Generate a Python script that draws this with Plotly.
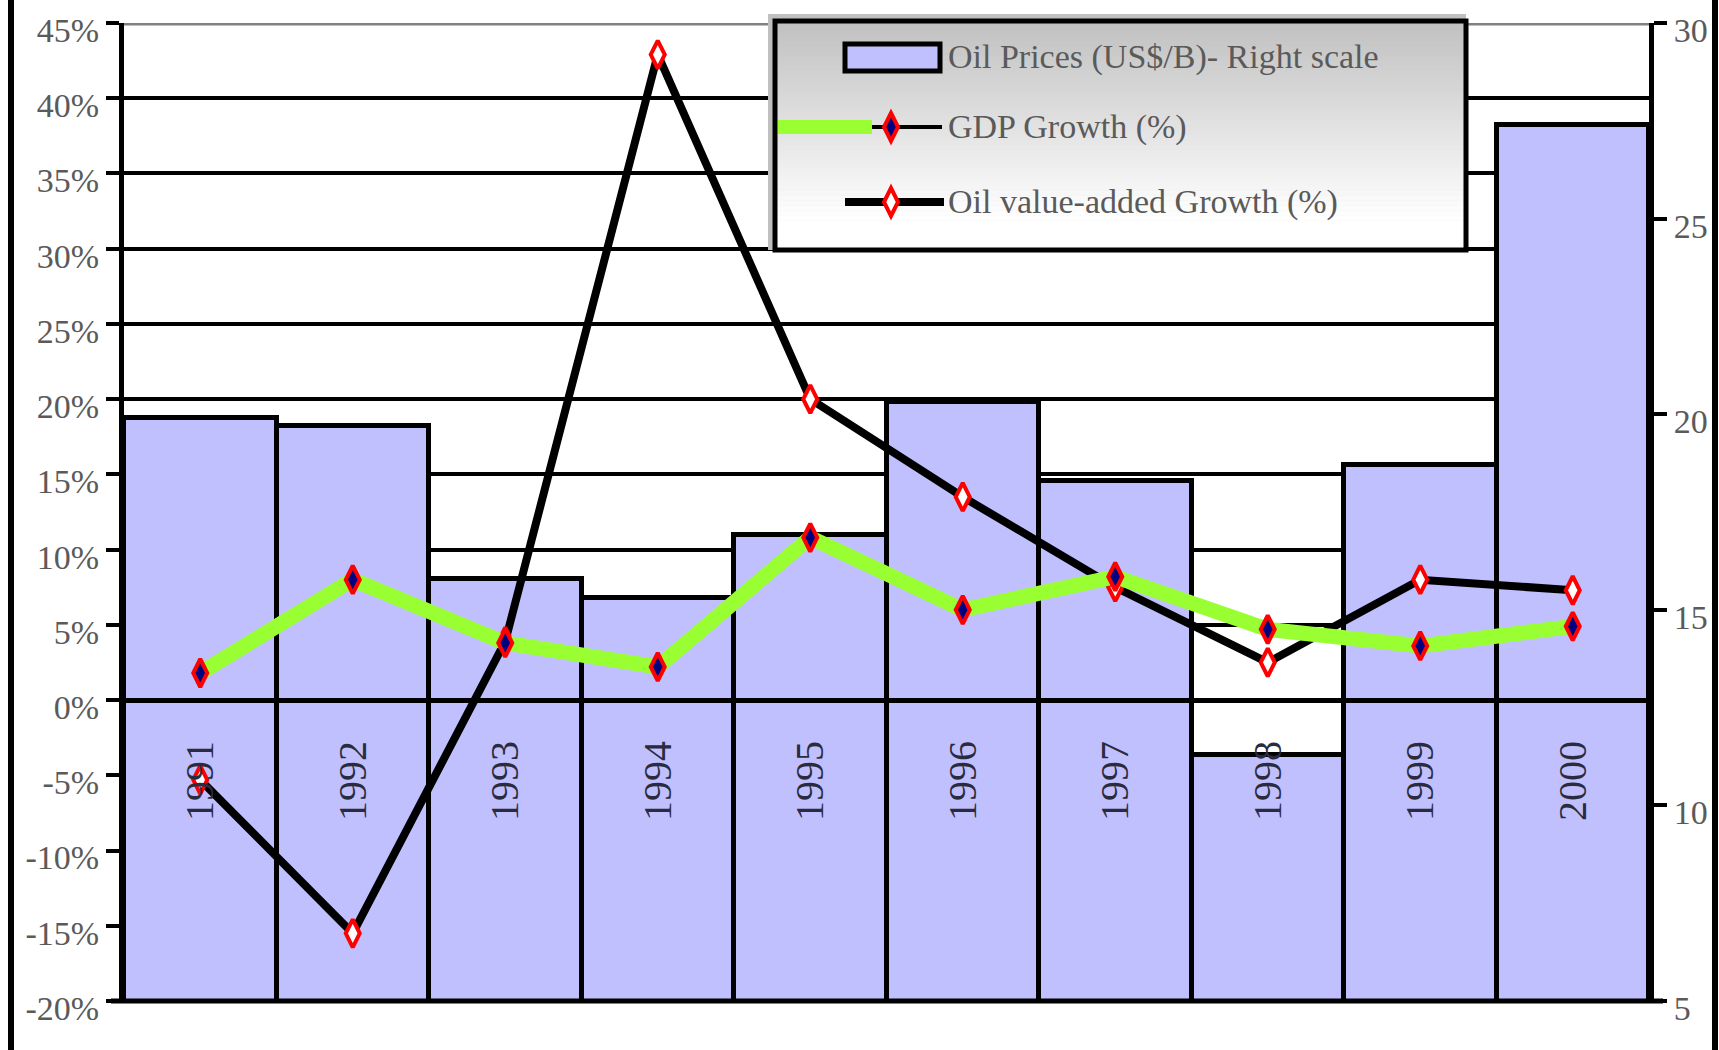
import plotly.graph_objects as go

# ---------------- data ----------------
years = ["1991", "1992", "1993", "1994", "1995", "1996", "1997", "1998", "1999", "2000"]
oil_price = [19.9, 19.7, 15.8, 15.3, 16.9, 20.3, 18.3, 11.3, 18.7, 27.4]      # US$/B, right scale
gdp_growth = [1.8, 8.0, 3.8, 2.2, 10.8, 6.0, 8.2, 4.7, 3.6, 4.9]             # %
oil_va_growth = [-5.3, -15.5, 3.9, 42.9, 20.0, 13.5, 7.5, 2.5, 8.0, 7.3]     # %
pct_ticks = [-20, -15, -10, -5, 0, 5, 10, 15, 20, 25, 30, 35, 40, 45]
pct_labels = [f"{v}%" for v in pct_ticks]
price_ticks = [5, 10, 15, 20, 25, 30]
legend_labels = ["Oil Prices (US$/B)- Right scale", "GDP Growth (%)", "Oil value-added Growth (%)"]

# ---------------- geometry ----------------
W, H = 1719, 1050
L, R, T, B = 124, 70, 23, 49
PW, PH = W - L - R, H - T - B


def px(x):
    return (x - L) / PW


def py(y):
    return (H - B - y) / PH


BAR_COLOR = "#C0C0FF"
GREEN = "#99FF33"
NAVY = "#000080"
RED = "#FF0000"
FONT = "Liberation Serif"
TXT = "#5a5a5a"

fig = go.Figure()

fig.add_trace(go.Bar(
    x=years, y=oil_price, name=legend_labels[0],
    marker=dict(color=BAR_COLOR, line=dict(color="black", width=5)),
    xaxis="x", yaxis="y", showlegend=False,
))

fig.add_trace(go.Scatter(
    x=years, y=oil_va_growth, name=legend_labels[2], mode="lines+markers",
    line=dict(color="black", width=8),
    marker=dict(symbol="diamond-tall", size=20, color="white", line=dict(color=RED, width=4)),
    xaxis="x", yaxis="y2", showlegend=False,
))

fig.add_trace(go.Scatter(
    x=years, y=gdp_growth, mode="lines",
    line=dict(color=GREEN, width=15),
    xaxis="x", yaxis="y2", showlegend=False, hoverinfo="skip",
))

fig.add_trace(go.Scatter(
    x=years, y=gdp_growth, name=legend_labels[1], mode="markers",
    marker=dict(symbol="diamond-tall", size=20, color=NAVY, line=dict(color=RED, width=4)),
    xaxis="x", yaxis="y2", showlegend=False,
))

shapes = []
# outer frame (left / right vertical rules)
for xx in (11, 1715):
    shapes.append(dict(type="line", xref="paper", yref="paper", x0=px(xx), x1=px(xx),
                       y0=py(H + 10), y1=py(-10), line=dict(color="black", width=6), layer="above"))
# bottom line
shapes.append(dict(type="line", xref="paper", yref="paper", x0=px(111), x1=px(1663),
                   y0=0, y1=0, line=dict(color="black", width=5), layer="above"))
# grey top gridline
shapes.append(dict(type="line", xref="paper", yref="y2", x0=0, x1=1, y0=45, y1=45,
                   line=dict(color="#808080", width=5), layer="above"))

# ---- legend box ----
LX0, LX1, LY0, LY1 = 775, 1466, 21, 250
shapes.append(dict(type="rect", xref="paper", yref="paper", x0=px(LX0 - 5), x1=px(LX1 - 2),
                   y0=py(LY0 - 5), y1=py(LY1 - 2), line=dict(color="#c0c0c0", width=4),
                   fillcolor="#c0c0c0", layer="above"))
NB = 46
for i in range(NB):
    y0 = LY0 + (LY1 - LY0) * i / NB
    y1 = LY0 + (LY1 - LY0) * (i + 1) / NB
    t = min(1.0, (i + 0.5) / (NB * 0.86))
    g = int(round(192 + (255 - 192) * t))
    col = f"rgb({g},{g},{g})"
    shapes.append(dict(type="rect", xref="paper", yref="paper", x0=px(LX0), x1=px(LX1),
                       y0=py(y0), y1=py(y1 + 0.6), line=dict(width=0), fillcolor=col, layer="above"))
shapes.append(dict(type="rect", xref="paper", yref="paper", x0=px(LX0), x1=px(LX1),
                   y0=py(LY0), y1=py(LY1), line=dict(color="black", width=5), layer="above"))

ROWS = [57, 127, 202]
# row 1 : bar swatch
shapes.append(dict(type="rect", xref="paper", yref="paper", x0=px(845), x1=px(940),
                   y0=py(44), y1=py(71), fillcolor=BAR_COLOR, line=dict(color="black", width=5),
                   layer="above"))
# row 2 : green + black line + navy diamond
shapes.append(dict(type="line", xref="paper", yref="paper", x0=px(778), x1=px(872),
                   y0=py(ROWS[1]), y1=py(ROWS[1]), line=dict(color=GREEN, width=14), layer="above"))
shapes.append(dict(type="line", xref="paper", yref="paper", x0=px(872), x1=px(942),
                   y0=py(ROWS[1]), y1=py(ROWS[1]), line=dict(color="black", width=4), layer="above"))
# row 3 : black line
shapes.append(dict(type="line", xref="paper", yref="paper", x0=px(845), x1=px(944),
                   y0=py(ROWS[2]), y1=py(ROWS[2]), line=dict(color="black", width=8), layer="above"))


def diamond(cx, cy, hw, hh):
    return (f"M {px(cx)} {py(cy - hh)} L {px(cx + hw)} {py(cy)} "
            f"L {px(cx)} {py(cy + hh)} L {px(cx - hw)} {py(cy)} Z")


shapes.append(dict(type="path", xref="paper", yref="paper", path=diamond(891, ROWS[1], 7, 14),
                   fillcolor=NAVY, line=dict(color=RED, width=4), layer="above"))
shapes.append(dict(type="path", xref="paper", yref="paper", path=diamond(891, ROWS[2], 7, 14),
                   fillcolor="white", line=dict(color=RED, width=4), layer="above"))

annotations = []
for lab, ry in zip(legend_labels, ROWS):
    annotations.append(dict(text=lab, xref="paper", yref="paper", x=px(946), y=py(ry),
                            xanchor="left", yanchor="middle", showarrow=False,
                            font=dict(family=FONT, size=34, color=TXT)))

axis_common = dict(showline=True, linecolor="black", linewidth=5, ticks="outside",
                   ticklen=13, tickwidth=4, tickcolor="black", automargin=False,
                   ticklabelshift=7, ticklabeloverflow="allow",
                   tickfont=dict(family=FONT, size=34, color=TXT))

fig.update_layout(
    width=W, height=H,
    margin=dict(l=L, r=R, t=T, b=B, pad=0, autoexpand=False),
    paper_bgcolor="white", plot_bgcolor="white",
    bargap=0,
    showlegend=False,
    xaxis=dict(type="category", anchor="free", position=20 / 65, showline=True,
               linecolor="black", linewidth=5, ticks="", showgrid=False, zeroline=False,
               tickangle=-90, ticklabelstandoff=22, range=[-0.5, 9.5], automargin=False,
               tickfont=dict(family=FONT, size=40, color="#2b2b40")),
    yaxis=dict(side="right", range=[5, 30], tickvals=price_ticks, showgrid=False,
               zeroline=False, **axis_common),
    yaxis2=dict(side="left", overlaying="y", anchor="x", range=[-20, 45], tickvals=pct_ticks,
                ticktext=pct_labels, showgrid=True, gridcolor="black", gridwidth=4,
                zeroline=False, **axis_common),
    shapes=shapes,
    annotations=annotations,
)

fig.write_html("out.html")
